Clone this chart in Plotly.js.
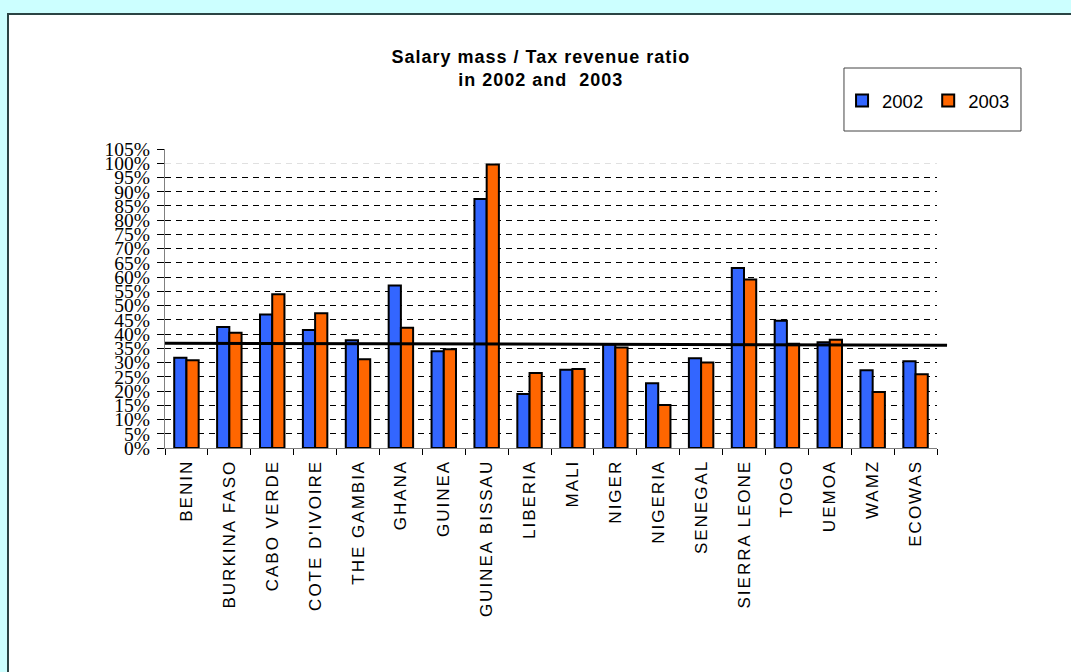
<!DOCTYPE html>
<html>
<head>
<meta charset="utf-8">
<script src="https://cdn.plot.ly/plotly-3.0.1.min.js"></script>
<style>
  html, body { margin: 0; padding: 0; background: #CCFFFF; width: 1071px; height: 672px; overflow: hidden; }
  #panel { position: absolute; left: 7px; top: 13px; width: 1100px; height: 700px; background: #ffffff; border: 2px solid #2b4444; }
  #chart { position: absolute; left: 0; top: 0; width: 1071px; height: 672px; }
  #chart .xtick text { letter-spacing: 2px; }
  #chart .gtitle { letter-spacing: 1px; }
  #chart .gridlayer .y path.ygrid:last-child { stroke-opacity: 0.12 !important; }
</style>
</head>
<body>
<div id="panel"></div>
<div id="chart"></div>
<script>
const categories = ["BENIN", "BURKINA FASO", "CABO VERDE", "COTE D'IVOIRE", "THE GAMBIA", "GHANA", "GUINEA", "GUINEA BISSAU", "LIBERIA", "MALI", "NIGER", "NIGERIA", "SENEGAL", "SIERRA LEONE", "TOGO", "UEMOA", "WAMZ", "ECOWAS"];
const values2002 = [31.7, 42.5, 46.9, 41.4, 37.8, 57.1, 34.0, 87.4, 19.0, 27.5, 36.4, 22.7, 31.5, 63.2, 44.7, 37.1, 27.3, 30.5];
const values2003 = [30.8, 40.5, 54.0, 47.3, 31.2, 42.2, 34.7, 99.6, 26.3, 27.7, 35.3, 15.1, 30.0, 59.2, 36.6, 38.0, 19.7, 25.9];
const seriesNames = ["2002", "2003"];
const referenceLine = [36.8, 36.1];
const yTicks = [0, 5, 10, 15, 20, 25, 30, 35, 40, 45, 50, 55, 60, 65, 70, 75, 80, 85, 90, 95, 100, 105];

const traces = [
  { type: 'bar', name: seriesNames[0], x: categories, y: values2002,
    marker: { color: '#3366FF', line: { color: '#000000', width: 2 } } },
  { type: 'bar', name: seriesNames[1], x: categories, y: values2003,
    marker: { color: '#FF6600', line: { color: '#000000', width: 2 } } }
];

const layout = {
  width: 1071, height: 672,
  paper_bgcolor: 'rgba(0,0,0,0)',
  plot_bgcolor: 'rgba(0,0,0,0)',
  margin: { l: 165, r: 134, t: 149, b: 224 },
  barmode: 'group', bargap: 0.43, bargroupgap: 0,
  title: {
    text: '<b>Salary mass / Tax revenue ratio<br>in 2002 and  2003</b>',
    font: { family: 'Liberation Sans, Arial', size: 18, color: '#000' },
    xref: 'container', x: 0.505, xanchor: 'center',
    yref: 'container', y: 1 - 63 / 672, yanchor: 'top'
  },
  showlegend: true,
  legend: {
    orientation: 'h', x: 0.877, xanchor: 'left', y: 1.1605, yanchor: 'middle',
    bgcolor: 'rgba(0,0,0,0)', borderwidth: 0,
    font: { family: 'Liberation Sans, Arial', size: 18.5, color: '#000' },
    traceorder: 'normal'
  },
  xaxis: {
    type: 'category', tickangle: -90,
    tickfont: { family: 'Liberation Sans, Arial', size: 17, color: '#000' },
    showline: true, linecolor: '#808080', linewidth: 1,
    ticks: 'outside', ticklen: 6, tickcolor: '#000', tickson: 'boundaries',
    ticklabelstandoff: 4,
    showgrid: false, zeroline: false
  },
  yaxis: {
    range: [0, 105], tickvals: yTicks, ticktext: yTicks.map(v => v + '%'),
    tickfont: { family: 'Liberation Serif, Times New Roman', size: 19.5, color: '#000' },
    showline: true, linecolor: '#808080', linewidth: 1,
    ticks: 'outside', ticklen: 7, tickcolor: '#000',
    ticklabelstandoff: 3,
    showgrid: true, gridcolor: '#000000', gridwidth: 1, griddash: '6px,5px',
    zeroline: false
  },
  shapes: [
    { type: 'line', xref: 'paper', yref: 'y', x0: 0, x1: 1.013, y0: referenceLine[0], y1: referenceLine[1],
      line: { color: '#000000', width: 3 }, layer: 'above' },
    { type: 'rect', xref: 'paper', yref: 'paper', x0: 0.8795, x1: 1.1088, y0: 1.0602, y1: 1.2709,
      line: { color: '#444444', width: 1 }, fillcolor: '#ffffff', layer: 'below' }
  ]
};

Plotly.newPlot('chart', traces, layout, { displayModeBar: false, staticPlot: true });
</script>
</body>
</html>
